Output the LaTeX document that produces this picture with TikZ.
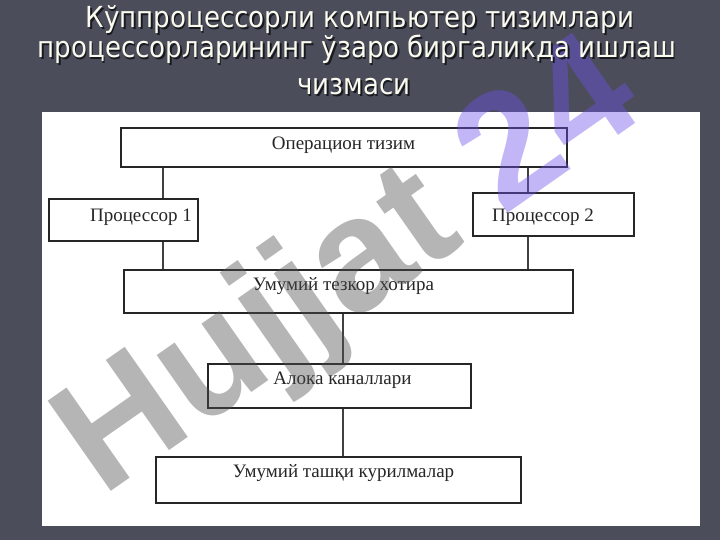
\documentclass[tikz,border=0pt]{standalone}
\usepackage{fontspec}
\setmainfont{Liberation Serif}
\newfontfamily\titlefont[FakeStretch=0.9]{DejaVu Sans}
\newfontfamily\wmfont{Liberation Sans}
\definecolor{slidebg}{RGB}{75,77,91}
\definecolor{titlecol}{RGB}{250,250,238}
\definecolor{shadowcol}{RGB}{25,25,32}
\definecolor{boxline}{RGB}{38,38,38}
\definecolor{wmgray}{RGB}{80,80,80}
\definecolor{wmpurple}{RGB}{110,82,235}
\tikzset{
  box/.style={draw=boxline, line width=2.4pt, fill=none, inner sep=0pt, anchor=north west},
  boxtext/.style={inner sep=0pt, anchor=base, font=\fontsize{19}{21}\selectfont, text=black!85},
  link/.style={draw=black!75, line width=1.4pt},
  ttl/.style={inner sep=0pt, anchor=base, font=\titlefont\fontsize{29}{32}\selectfont, text=titlecol},
  ttlsh/.style={inner sep=0pt, anchor=base, font=\titlefont\fontsize{29}{32}\selectfont, text=shadowcol}
}
\begin{document}
\begin{tikzpicture}[x=1pt,y=-1pt]
\useasboundingbox (0,0) rectangle (720,540);
\fill[slidebg] (0,0) rectangle (720,540);
% panel
\fill[white] (42,112) rectangle (700,526);
% boxes
\node[box, minimum width=446pt, minimum height=39pt] (os) at (120,127) {};
\node[box, minimum width=149pt, minimum height=42pt] (p1) at (48,198) {};
\node[box, minimum width=161pt, minimum height=43pt] (p2) at (472,192) {};
\node[box, minimum width=449pt, minimum height=43pt] (mem) at (123,269) {};
\node[box, minimum width=263pt, minimum height=44pt] (ch) at (207,363) {};
\node[box, minimum width=365pt, minimum height=46pt] (dev) at (155,456) {};
% texts
\node[boxtext] (ost) at (343.5,150) {Операцион тизим};
\node[boxtext] (p1t) at (141,222) {Процессор 1};
\node[boxtext] (p2t) at (543,222) {Процессор 2};
\node[boxtext] (memt) at (343.5,290) {Умумий тезкор хотира};
\node[boxtext] (cht) at (342.5,384) {Алока каналлари};
\node[boxtext] (devt) at (343.5,477) {Умумий ташқи курилмалар};
% connectors
\coordinate (c1) at (163,0);
\coordinate (c2) at (528,0);
\coordinate (c3) at (343,0);
\draw[link] (os.south -| c1) -- (p1.north -| c1);
\draw[link] (p1.south -| c1) -- (mem.north -| c1);
\draw[link] (os.south -| c2) -- (p2.north -| c2);
\draw[link] (p2.south -| c2) -- (mem.north -| c2);
\draw[link] (mem.south -| c3) -- (ch.north -| c3);
\draw[link] (ch.south -| c3) -- (dev.north -| c3);
% watermark
\node[rotate=35, inner sep=0pt, opacity=0.42, font=\wmfont\bfseries\fontsize{160}{160}\selectfont] (wm) at (352,272) {\textcolor{wmgray}{Hujjat} \textcolor{wmpurple}{24}};
% title
\node[ttlsh] (t1s) at (361.5,29.5) {Кўппроцессорли компьютер тизимлари};
\node[ttl] (t1) at (360,28) {Кўппроцессорли компьютер тизимлари};
\node[ttlsh] (t2s) at (358.5,59.5) {процессорларининг ўзаро биргаликда ишлаш};
\node[ttl] (t2) at (357,58) {процессорларининг ўзаро биргаликда ишлаш};
\node[ttlsh] (t3s) at (355.5,96.5) {чизмаси};
\node[ttl] (t3) at (354,95) {чизмаси};
\end{tikzpicture}
\end{document}
